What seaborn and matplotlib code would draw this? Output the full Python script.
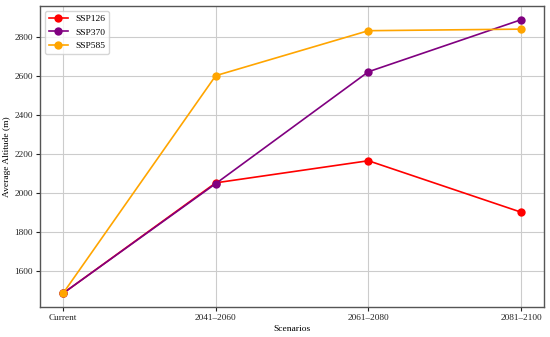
import matplotlib
matplotlib.use("Agg")
import matplotlib.pyplot as plt
import seaborn as sns
import pandas as pd

scenarios = ["Current", "2041\u20132060", "2061\u20132080", "2081\u20132100"]
ssp126 = [1487, 2052, 2165, 1902]
ssp370 = [1487, 2048, 2620, 2886]
ssp585 = [1487, 2600, 2830, 2838]
series_names = ["SSP126", "SSP370", "SSP585"]
colors = ["red", "purple", "orange"]

rows = []
for name, vals in zip(series_names, [ssp126, ssp370, ssp585]):
    for i, (s, v) in enumerate(zip(scenarios, vals)):
        rows.append({"Scenario": s, "idx": i, "Altitude": v, "Series": name})
df = pd.DataFrame(rows)

plt.rcParams["font.family"] = ["Liberation Serif", "DejaVu Serif"]
fig = plt.figure(figsize=(5.5, 3.37), dpi=100)
ax = fig.add_axes([0.073, 0.089, 0.916, 0.893])

sns.lineplot(data=df, x="idx", y="Altitude", hue="Series", palette=colors,
             marker="o", markersize=6, markeredgewidth=0, linewidth=1.2,
             ax=ax, zorder=3)

ax.set_xticks(range(len(scenarios)))
ax.set_xticklabels(scenarios)
ax.set_xlabel("Scenarios", fontsize=6.8, labelpad=2)
ax.set_ylabel("Average Altitude (m)", fontsize=6.8, labelpad=3)
ax.tick_params(labelsize=6.7, length=3, width=0.8, pad=2, colors="#222222")
ax.grid(True, color="#cccccc", linewidth=0.8)
ax.set_axisbelow(True)
for sp in ax.spines.values():
    sp.set_color("#555555")
    sp.set_linewidth(1.0)
leg = ax.legend(loc="upper left", fontsize=6.8, frameon=True)
leg.get_frame().set_edgecolor("#cccccc")

fig.savefig("out.png", dpi=100)
